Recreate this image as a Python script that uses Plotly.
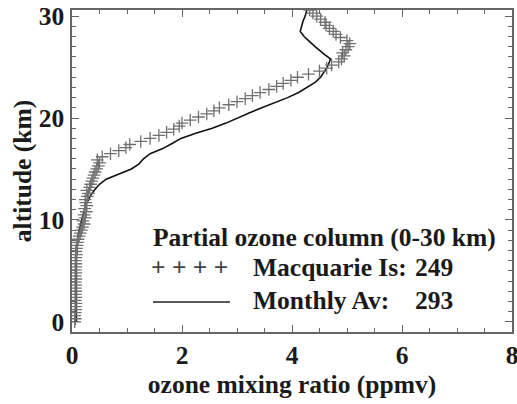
import plotly.graph_objects as go

# Macquarie Island ozonesonde profile (altitude km, ozone ppmv)
macq_alt = [0.0, 0.3, 0.6, 0.9, 1.2, 1.5, 1.8, 2.1, 2.4, 2.7, 3.0, 3.3, 3.6, 3.9, 4.2, 4.5, 4.8,
            5.1, 5.4, 5.7, 6.0, 6.3, 6.6, 6.9, 7.2, 7.5, 7.8, 8.1, 8.4, 8.7, 9.0, 9.3, 9.6, 9.9,
            10.2, 10.5, 10.8, 11.1, 11.4, 11.7, 12.0, 12.3, 12.6, 12.9, 13.2, 13.5, 13.8, 14.1,
            14.4, 14.7, 15.0, 15.3, 15.6, 15.9, 16.2, 16.5, 16.8, 17.1, 17.4, 17.7, 18.0, 18.3,
            18.6, 18.9, 19.2, 19.5, 19.8, 20.1, 20.4, 20.7, 21.0, 21.3, 21.6, 21.9, 22.2, 22.5,
            22.8, 23.1, 23.4, 23.7, 24.0, 24.3, 24.6, 24.9, 25.2, 25.5, 25.8, 26.1, 26.4, 26.7,
            27.0, 27.3, 27.6, 27.9, 28.2, 28.5, 28.8, 29.1, 29.4, 29.7, 30.0, 30.3, 30.6]
macq_o3 = [0.05, 0.06, 0.05, 0.06, 0.07, 0.06, 0.07, 0.06, 0.07, 0.06, 0.07, 0.06, 0.07, 0.06,
           0.07, 0.06, 0.07, 0.06, 0.07, 0.07, 0.06, 0.07, 0.08, 0.07, 0.08, 0.09, 0.10, 0.11,
           0.13, 0.15, 0.17, 0.19, 0.22, 0.20, 0.24, 0.22, 0.26, 0.23, 0.27, 0.25, 0.24, 0.28,
           0.30, 0.27, 0.32, 0.34, 0.36, 0.38, 0.40, 0.42, 0.45, 0.48, 0.50, 0.46, 0.55, 0.70,
           0.85, 0.98, 1.05, 1.25, 1.42, 1.58, 1.72, 1.85, 1.95, 2.00, 2.15, 2.30, 2.45, 2.58,
           2.68, 2.85, 3.00, 3.15, 3.28, 3.42, 3.58, 3.72, 3.84, 3.98, 4.10, 4.30, 4.50, 4.63,
           4.72, 4.85, 4.90, 4.95, 4.92, 4.98, 5.02, 5.05, 5.00, 4.88, 4.80, 4.75, 4.68, 4.62,
           4.60, 4.52, 4.45, 4.38, 4.32]

# Monthly average profile
avg_alt = [0.0, 1.0, 2.0, 3.0, 4.0, 5.0, 6.0, 7.0, 8.0, 8.5, 9.0, 9.5, 10.0, 10.5, 11.0, 11.5,
           12.0, 12.5, 13.0, 13.5, 14.0, 14.5, 15.0, 15.5, 16.0, 16.5, 17.0, 17.5, 18.0, 18.5,
           19.0, 19.5, 20.0, 20.5, 21.0, 21.5, 22.0, 22.5, 23.0, 23.5, 24.0, 24.5, 25.0, 25.5,
           25.8, 26.2, 26.6, 27.0, 27.5, 28.0, 28.5, 29.0, 29.5, 30.0, 30.6]
avg_o3 = [0.08, 0.08, 0.07, 0.08, 0.07, 0.08, 0.08, 0.09, 0.10, 0.11, 0.13, 0.15, 0.18, 0.20,
          0.23, 0.25, 0.30, 0.35, 0.42, 0.50, 0.62, 0.85, 1.08, 1.22, 1.30, 1.42, 1.65, 1.82,
          1.98, 2.25, 2.55, 2.80, 3.00, 3.22, 3.45, 3.70, 3.92, 4.12, 4.28, 4.42, 4.52, 4.58,
          4.64, 4.68, 4.70, 4.60, 4.50, 4.42, 4.32, 4.22, 4.15, 4.17, 4.20, 4.24, 4.27]

x_ticks = [0, 2, 4, 6, 8]
y_ticks = [0, 10, 20, 30]
legend_title = "Partial ozone column (0-30 km)"
legend_names = ["Macquarie Is:", "Monthly Av:"]
legend_values = ["249", "293"]

FONT = "Liberation Serif"
FS = 25.5
AX = "#666666"
TXT = "#1a1a1a"

fig = go.Figure()
fig.add_trace(go.Scatter(x=avg_o3, y=avg_alt, mode="lines",
                         line=dict(color="#111111", width=1.6), showlegend=False))
fig.add_trace(go.Scatter(x=macq_o3, y=macq_alt, mode="markers",
                         marker=dict(symbol="cross-thin", size=9, color="#707070",
                                     line=dict(color="#707070", width=1.3)),
                         showlegend=False))

L, R, T, B = 72, 5, 10, 72
W, H = 517, 404
pw, ph = W - L - R, H - T - B

def px(x):
    return (x - L) / pw

def py(y):
    return (H - B - y) / ph

fnt = dict(family=FONT, size=FS, color=TXT)
fig.add_annotation(x=px(151), y=py(237), xref="paper", yref="paper", text="<b>%s</b>" % legend_title,
                   showarrow=False, xanchor="left", yanchor="middle", font=fnt)
fig.add_annotation(x=px(149), y=py(267), xref="paper", yref="paper", text="<b>+ + + +</b>",
                   showarrow=False, xanchor="left", yanchor="middle",
                   font=dict(family=FONT, size=FS, color="#444444"))
fig.add_shape(type="line", xref="paper", yref="paper", x0=px(153), x1=px(230), y0=py(302), y1=py(302),
              line=dict(color="#222222", width=1.5))
for i, yy in enumerate([267, 300]):
    fig.add_annotation(x=px(251), y=py(yy), xref="paper", yref="paper", text="<b>%s</b>" % legend_names[i],
                       showarrow=False, xanchor="left", yanchor="middle", font=fnt)
    fig.add_annotation(x=px(455), y=py(yy), xref="paper", yref="paper", text="<b>%s</b>" % legend_values[i],
                       showarrow=False, xanchor="right", yanchor="middle", font=fnt)

axis_common = dict(showline=True, linecolor=AX, linewidth=1.5, mirror="allticks",
                   ticks="inside", ticklen=7, tickcolor=AX, tickwidth=1,
                   showgrid=False, zeroline=False, automargin=False,
                   ticklabeloverflow="allow",
                   tickfont=dict(family=FONT, size=FS, color=TXT))

fig.update_xaxes(range=[0, 8], tickvals=x_ticks, ticktext=["<b>%d</b>" % v for v in x_ticks],
                 minor=dict(dtick=0.5, ticks="inside", ticklen=4, tickcolor=AX),
                 ticklabelstandoff=0,
                 title=dict(text="<b>ozone mixing ratio (ppmv)</b>", standoff=0,
                            font=dict(family=FONT, size=FS, color=TXT)),
                 **axis_common)
fig.update_yaxes(range=[-1, 30.6], tickvals=y_ticks, ticktext=["<b>%d</b>" % v for v in y_ticks],
                 minor=dict(dtick=1, ticks="inside", ticklen=4, tickcolor=AX),
                 ticklabelstandoff=1,
                 title=dict(text="<b>altitude (km)</b>", standoff=0,
                            font=dict(family=FONT, size=FS, color=TXT)),
                 **axis_common)

fig.update_layout(width=W, height=H, margin=dict(l=L, r=R, t=T, b=B),
                  paper_bgcolor="white", plot_bgcolor="white", showlegend=False)

fig.write_html("out.html", config={"displayModeBar": False},
               post_script="document.body.style.margin='0';document.body.style.overflow='hidden';")
